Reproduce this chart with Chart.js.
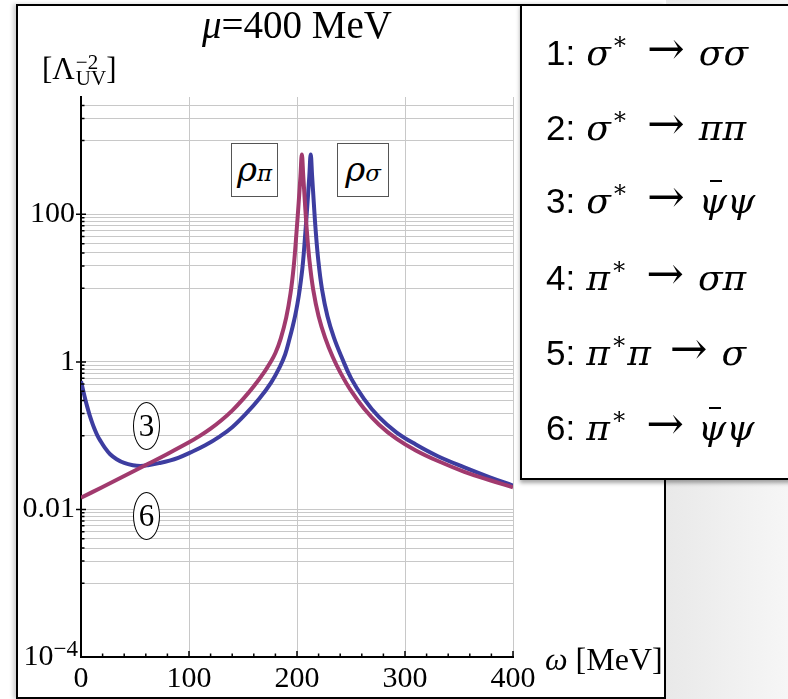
<!DOCTYPE html>
<html>
<head>
<meta charset="utf-8">
<script src="https://cdn.jsdelivr.net/npm/chart.js@4.4.1/dist/chart.umd.min.js"></script>
<style>
  body { margin: 0; width: 788px; height: 699px; position: relative; overflow: hidden; background: #fff; font-family: "Liberation Serif", serif; }
  .abs { position: absolute; white-space: nowrap; }
  #gray { left: 666px; top: 0; width: 122px; height: 699px; background: linear-gradient(to right, #e9e9e9, #f6f6f6); }
  #frame { left: 16px; top: 4px; width: 650px; height: 695px; border: 2px solid #000; box-sizing: border-box; background: #fff; box-shadow: -3px 0 4px rgba(0,0,0,0.18); }
  #chart { position: absolute; left: 0; top: 0; }
  .serif { font-family: "Liberation Serif", serif; color: #000; }
  .gk { font-family: "DejaVu Serif", serif; font-style: italic; }
  .box { border: 1px solid #555; box-sizing: border-box; background: #fff; text-align: center; }
  .oval { border: 1px solid #000; border-radius: 50%; box-sizing: border-box; background: #fff; text-align: center; font-size: 31px; line-height: 46px; }
  #legend { left: 520px; top: 4px; width: 300px; height: 476px; border: 2px solid #000; box-sizing: border-box; background: #fff; box-shadow: 0 3px 4px rgba(0,0,0,0.35); }
  .lg { position: absolute; left: 546px; height: 44px; line-height: 44px; white-space: nowrap; font-size: 34px; }
  .lg .n { font-family: "Liberation Sans", sans-serif; font-size: 35px; margin-right: 11px; }
  .lg .g { font-family: "DejaVu Serif", serif; font-style: italic; font-size: 36px; }
  .lg sup { font-family: "DejaVu Serif", serif; font-size: 24px; position: relative; top: -2px; vertical-align: top; line-height: 30px; margin-left: 1px; }
  .lg .ar { font-family: "DejaVu Serif", serif; font-size: 45px; margin: 0 14px 0 19px; position: relative; top: -1px; }
  .psib { position: relative; display: inline-block; }
  .psib::before { content: ""; position: absolute; left: 11px; top: 1px; width: 12px; height: 2px; background: #000; }
</style>
</head>
<body>
<div id="gray" class="abs"></div>
<div id="frame" class="abs"></div>
<canvas id="chart" width="788" height="699"></canvas>

<div class="abs serif" style="left:202px; top:3px; font-size:39px; line-height:44px;"><i>μ</i>=400 MeV</div>
<div class="abs serif" style="left:42px; top:49px; font-size:31px; line-height:40px;">[Λ<span style="display:inline-flex; flex-direction:column; vertical-align:middle; font-size:21px; line-height:16px; position:relative; top:-2px; margin-left:1px;"><span>−2</span><span>UV</span></span>]</div>
<div class="abs serif" style="left:545px; top:639px; font-size:32px; line-height:40px;"><i>ω</i> [MeV]</div>

<div class="abs box" style="left:231px; top:143px; width:47px; height:54px; line-height:50px;"><span class="gk" style="font-size:34px;">ρ</span><span class="gk" style="font-size:23px;">π</span></div>
<div class="abs box" style="left:337px; top:143px; width:52px; height:54px; line-height:50px;"><span class="gk" style="font-size:34px;">ρ</span><span class="gk" style="font-size:23px;">σ</span></div>
<div class="abs serif oval" style="left:133px; top:402px; width:27px; height:48px;">3</div>
<div class="abs serif oval" style="left:133px; top:492px; width:27px; height:48px;">6</div>

<div id="legend" class="abs"></div>
<div class="lg" style="top:28px;"><span class="n">1:</span><span class="g">σ</span><sup>∗</sup><span class="ar">→</span><span class="g">σσ</span></div>
<div class="lg" style="top:103px;"><span class="n">2:</span><span class="g">σ</span><sup>∗</sup><span class="ar">→</span><span class="g">ππ</span></div>
<div class="lg" style="top:176px;"><span class="n">3:</span><span class="g">σ</span><sup>∗</sup><span class="ar">→</span><span class="g psib">ψ</span><span class="g">ψ</span></div>
<div class="lg" style="top:253px;"><span class="n">4:</span><span class="g">π</span><sup>∗</sup><span class="ar">→</span><span class="g">σπ</span></div>
<div class="lg" style="top:328px;"><span class="n">5:</span><span class="g">π</span><sup>∗</sup><span class="g">π</span><span class="ar">→</span><span class="g">σ</span></div>
<div class="lg" style="top:403px;"><span class="n">6:</span><span class="g">π</span><sup>∗</sup><span class="ar">→</span><span class="g psib">ψ</span><span class="g">ψ</span></div>

<script>
// curve 3: sigma* -> psi-bar psi
const omega3 = [0, 2, 4, 6, 8, 10, 12, 15, 18, 22, 27, 33, 40, 48, 55, 62, 73, 82, 90, 101, 115, 129, 140, 153, 165, 176, 184, 189, 193.2, 196, 198.2, 200.3, 202.2, 205.2, 207.7, 209.7, 211.4, 212.7,
                214, 215.5, 217.2, 219.7, 223.2, 228.2, 234.2, 241.2, 250, 262, 276, 292, 310, 330, 355, 378, 400];
const value3 = [0.55, 0.41, 0.31, 0.24, 0.19, 0.155, 0.129, 0.102, 0.085, 0.069, 0.056, 0.048, 0.0427, 0.0398, 0.0389, 0.0398, 0.0427, 0.0459, 0.0501, 0.0589, 0.0741, 0.0989, 0.130, 0.200, 0.316, 0.525, 0.851, 1.26, 2.09, 3.02, 4.17, 6.03, 8.91, 19.95, 56.2, 141, 331, 646,
                331, 148, 63.1, 24.0, 9.55, 4.17, 2.14, 1.175, 0.603, 0.316, 0.178, 0.111, 0.0759, 0.0531, 0.0372, 0.0275, 0.0211];

// curve 6: pi* -> psi-bar psi
const omega6 = [0, 20, 40, 60, 80, 100, 110, 120, 130, 140, 150, 160, 170, 175, 180, 185, 190, 194, 197, 199.5, 201.5, 203.2, 204.5,
                205.8, 207.3, 209, 211.5, 215, 220, 226, 233, 240, 250, 262, 276, 292, 310, 330, 355, 378, 400];
const value6 = [0.0144, 0.0202, 0.0284, 0.0400, 0.0566, 0.0813, 0.0993, 0.1245, 0.162, 0.219, 0.313, 0.468, 0.741, 0.966, 1.32, 2.09, 3.98, 8.51, 20.0, 56.2, 141, 331, 646,
                331, 148, 63.1, 24.0, 9.55, 4.17, 2.14, 1.175, 0.724, 0.407, 0.234, 0.141, 0.0912, 0.0631, 0.0457, 0.0324, 0.0251, 0.020];

// axes
const xLabelTicks = [0, 100, 200, 300, 400];
const xMinorTicks = [0, 20, 40, 60, 80, 100, 120, 140, 160, 180, 200, 220, 240, 260, 280, 300, 320, 340, 360, 380, 400];
const yGridValues = [0.001, 0.002, 0.003, 0.004, 0.005, 0.006, 0.007, 0.008, 0.009, 0.01,
                     0.1, 0.2, 0.3, 0.4, 0.5, 0.6, 0.7, 0.8, 0.9, 1,
                     10, 20, 30, 40, 50, 60, 70, 80, 90, 100,
                     1000, 2000, 3000];
const yMajorTicks = [0.01, 1, 100];
const yMajorLabels = ['0.01', '1', '100'];

const BLUE = '#3d3da0';
const MAGENTA = '#a13a6e';
const TICK_FONT = { family: 'Liberation Serif', size: 30 };

const axisMarks = {
    id: 'axisMarks',
    afterDraw(chart) {
        const { ctx, chartArea } = chart;
        const xs = chart.scales.x, ys = chart.scales.y;
        ctx.save();
        ctx.strokeStyle = '#000';
        ctx.lineWidth = 1.5;
        ctx.beginPath();
        xMinorTicks.forEach(v => {
            const px = xs.getPixelForValue(v);
            const len = v % 100 === 0 ? 6 : 3.5;
            ctx.moveTo(px, chartArea.bottom);
            ctx.lineTo(px, chartArea.bottom - len);
        });
        yGridValues.forEach(v => {
            const py = ys.getPixelForValue(v);
            ctx.moveTo(chartArea.left, py);
            ctx.lineTo(chartArea.left + 3.5, py);
        });
        yMajorTicks.forEach(v => {
            const py = ys.getPixelForValue(v);
            ctx.moveTo(chartArea.left - 5, py);
            ctx.lineTo(chartArea.left + 5, py);
        });
        ctx.stroke();

        // 10^-4 label at the bottom of the y axis
        const py = ys.getPixelForValue(1e-4);
        ctx.fillStyle = '#000';
        ctx.textBaseline = 'middle';
        ctx.textAlign = 'right';
        ctx.font = '23px "Liberation Serif"';
        ctx.fillText('\u22124', 78, py - 7);
        const w = ctx.measureText('\u22124').width;
        ctx.font = '30px "Liberation Serif"';
        ctx.fillText('10', 78 - w, py);
        ctx.restore();
    }
};

new Chart(document.getElementById('chart'), {
    type: 'line',
    data: {
        datasets: [
            {
                label: '6',
                data: omega6.map((w, i) => ({ x: w, y: value6[i] })),
                borderColor: MAGENTA,
                borderWidth: 4,
                pointRadius: 0,
                tension: 0.4
            },
            {
                label: '3',
                data: omega3.map((w, i) => ({ x: w, y: value3[i] })),
                borderColor: BLUE,
                borderWidth: 4,
                pointRadius: 0,
                tension: 0.4
            }
        ]
    },
    options: {
        responsive: false,
        devicePixelRatio: 1,
        animation: false,
        layout: { padding: { left: 0, right: 275, top: 97, bottom: 0 } },
        plugins: { legend: { display: false }, tooltip: { enabled: false } },
        scales: {
            x: {
                type: 'linear',
                min: 0,
                max: 400,
                afterBuildTicks: s => { s.ticks = xLabelTicks.map(v => ({ value: v })); },
                afterFit: s => { s.height = 42; },
                grid: {
                    drawTicks: false,
                    color: c => (c.tick && c.tick.value === 0) ? 'rgba(0,0,0,0)' : '#c8c8c8',
                    lineWidth: 1
                },
                border: { color: '#000', width: 2 },
                ticks: { font: TICK_FONT, color: '#000', padding: 4, maxRotation: 0, callback: v => String(v) }
            },
            y: {
                type: 'logarithmic',
                min: 1e-4,
                max: 3900,
                afterBuildTicks: s => { s.ticks = yGridValues.map(v => ({ value: v })); },
                afterFit: s => { s.width = 81; },
                grid: { drawTicks: false, color: '#c8c8c8', lineWidth: 1 },
                border: { color: '#000', width: 2 },
                ticks: {
                    font: TICK_FONT,
                    color: '#000',
                    padding: 6,
                    autoSkip: false,
                    callback: function (v, i) {
                        const k = yMajorTicks.indexOf(yGridValues[i]);
                        return k >= 0 ? yMajorLabels[k] : '';
                    }
                }
            }
        }
    },
    plugins: [axisMarks]
});
</script>
</body>
</html>
